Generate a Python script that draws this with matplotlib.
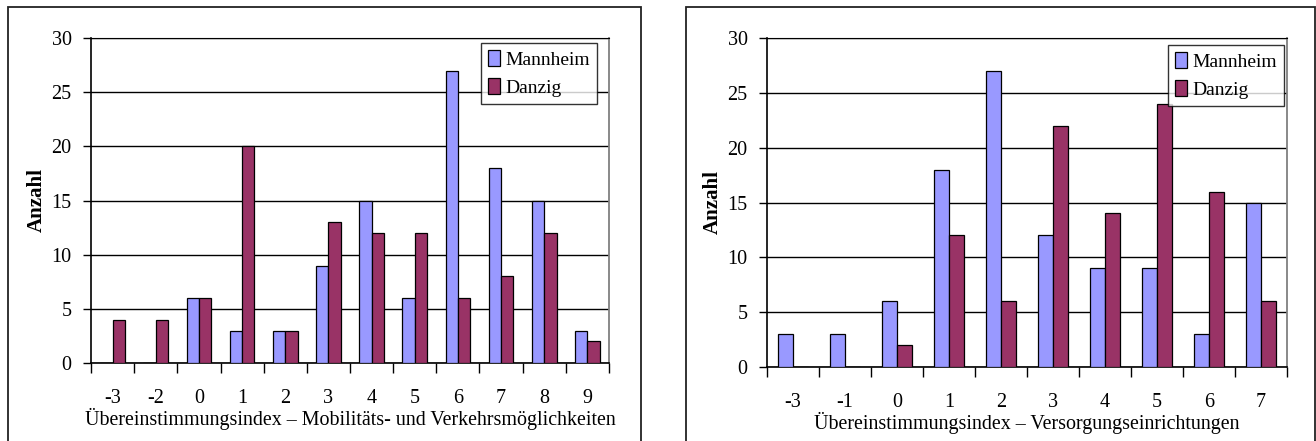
import numpy as np
import matplotlib.pyplot as plt
from matplotlib.patches import Rectangle

plt.rcParams['font.family'] = ['Liberation Serif', 'DejaVu Serif']

# Mobilitäts- und Verkehrsmöglichkeiten
kat_mob = ['-3', '-2', '0', '1', '2', '3', '4', '5', '6', '7', '8', '9']
mannheim_mob = [0, 0, 6, 3, 3, 9, 15, 6, 27, 18, 15, 3]
danzig_mob = [4, 4, 6, 20, 3, 13, 12, 12, 6, 8, 12, 2]

# Versorgungseinrichtungen
kat_vers = ['-3', '-1', '0', '1', '2', '3', '4', '5', '6', '7']
mannheim_vers = [3, 3, 6, 18, 27, 12, 9, 9, 3, 15]
danzig_vers = [0, 0, 2, 12, 6, 22, 14, 24, 16, 6]

BLAU = '#9999FF'
ROT = '#993366'
W, H = 1316, 441

fig = plt.figure(figsize=(W / 100, H / 100), dpi=100)


def rahmen(x0, x1, y0):
    # Rahmen um jedes Diagramm (unten abgeschnitten)
    r = Rectangle((x0 / W, -0.2), (x1 - x0) / W, (H - y0) / H + 0.2,
                  transform=fig.transFigure, fill=False, edgecolor='#222222',
                  linewidth=1.3, clip_on=False)
    fig.patches.append(r)


def diagramm(pos, kat, m, d, xlabel, legpos):
    ax = fig.add_axes(pos)
    x = np.arange(len(kat))
    w = 0.285
    ax.bar(x - w / 2, m, w, color=BLAU, edgecolor='black', linewidth=0.9,
           label='Mannheim', zorder=3)
    ax.bar(x + w / 2, d, w, color=ROT, edgecolor='black', linewidth=0.9,
           label='Danzig', zorder=3)
    ax.set_xlim(-0.5, len(kat) - 0.5)
    ax.set_ylim(0, 30)
    ax.set_yticks(range(0, 31, 5))
    ax.yaxis.grid(True, color='black', linewidth=1.0, zorder=0)
    ax.tick_params(axis='y', direction='out', length=6, width=1, pad=8,
                   labelsize=14.5)
    # Striche zwischen den Kategorien, Beschriftung in der Mitte
    ax.set_xticks(np.arange(len(kat) + 1) - 0.5)
    ax.set_xticklabels([])
    ax.tick_params(axis='x', which='major', direction='out', length=7,
                   width=1)
    ax.set_xticks(x, minor=True)
    ax.set_xticklabels(kat, minor=True)
    ax.tick_params(axis='x', which='minor', length=0, pad=19, labelsize=14.5)
    ax.set_xlabel(xlabel, fontsize=14.4, labelpad=0)
    ax.set_ylabel('Anzahl', fontsize=15, fontweight='bold', labelpad=3)
    for s in ['left', 'bottom']:
        ax.spines[s].set_color('black')
        ax.spines[s].set_linewidth(1.2)
    ax.spines['top'].set_color('black')
    ax.spines['right'].set_color('#808080')
    ax.spines['right'].set_linewidth(1.3)
    leg = ax.legend(loc='upper right', bbox_to_anchor=legpos, fontsize=14,
                    frameon=True, fancybox=False, shadow=False,
                    handlelength=0.6, handleheight=0.9, handletextpad=0.3,
                    labelspacing=0.5, borderpad=0.35, borderaxespad=0)
    leg.get_frame().set_edgecolor('black')
    leg.get_frame().set_linewidth(1.0)
    return ax


rahmen(8, 641, 7)
rahmen(686, 1315, 7)

diagramm([91 / W, 78 / H, 518 / W, 325 / H], kat_mob, mannheim_mob,
         danzig_mob,
         'Übereinstimmungsindex – Mobilitäts- und Verkehrsmöglichkeiten',
         ((597 - 91) / 518, (363 - 43) / 325))
diagramm([767 / W, 74 / H, 520 / W, 329 / H], kat_vers, mannheim_vers,
         danzig_vers,
         'Übereinstimmungsindex – Versorgungseinrichtungen',
         ((1284 - 767) / 520, (367 - 45) / 329))

fig.savefig('out.png', dpi=100)
